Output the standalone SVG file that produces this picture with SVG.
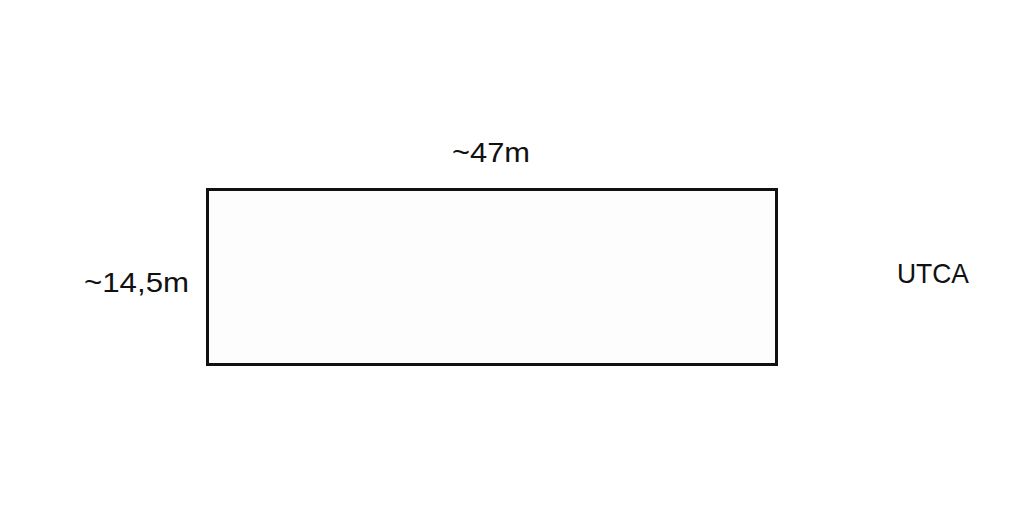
<svg xmlns="http://www.w3.org/2000/svg" width="1024" height="529" viewBox="0 0 1024 529">
<style>
.lbl{font-family:"Liberation Sans",Arial,sans-serif;font-size:28px;fill:#111;}
</style>
<rect width="1024" height="529" fill="#ffffff"/>
<g id="plot">
<rect x="207.5" y="189.5" width="569" height="175" fill="#fdfdfd" stroke="#111" stroke-width="3"/>
</g>
<g id="labels">
<text class="lbl" x="452" y="162" textLength="78" lengthAdjust="spacingAndGlyphs">~47m</text>
<text class="lbl" x="84" y="292" textLength="105" lengthAdjust="spacingAndGlyphs">~14,5m</text>
<text class="lbl" x="897" y="283" textLength="72" lengthAdjust="spacingAndGlyphs">UTCA</text>
</g>
</svg>
